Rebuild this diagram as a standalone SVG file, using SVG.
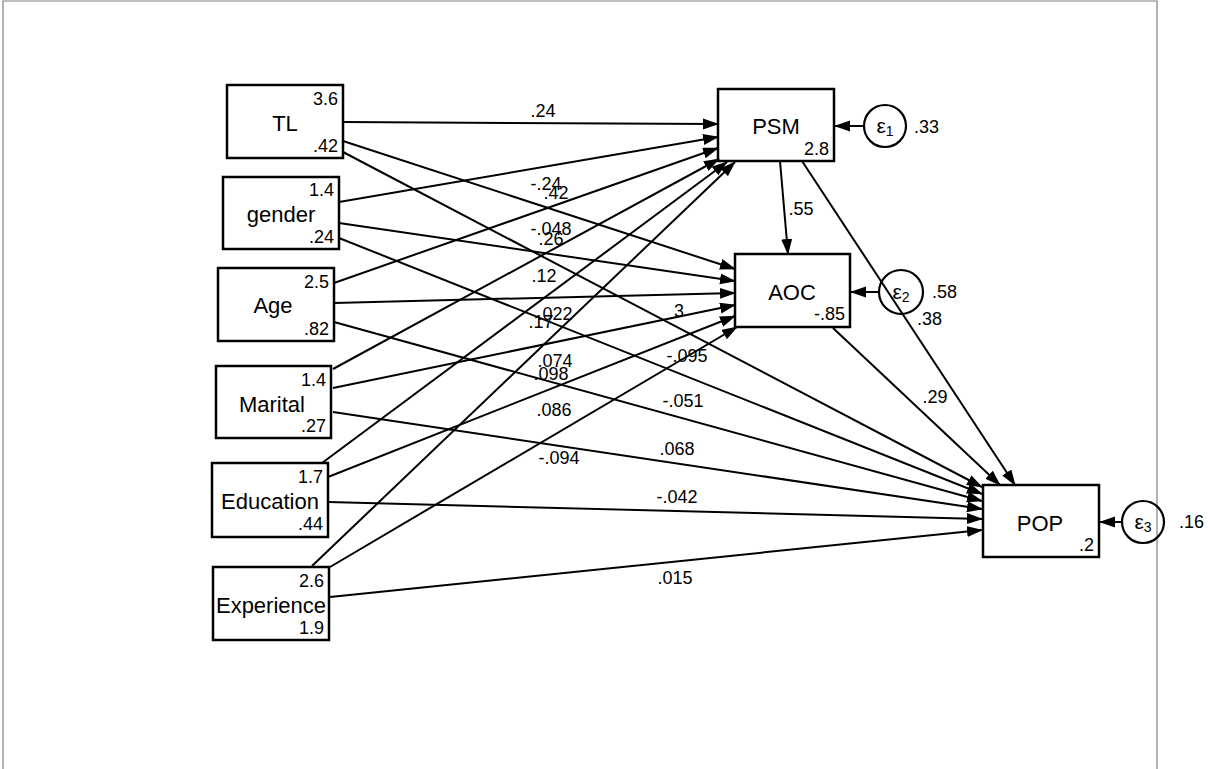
<svg xmlns="http://www.w3.org/2000/svg" width="1212" height="769" viewBox="0 0 1212 769">
<style>
.frame{fill:none;stroke:#808080;stroke-width:1.2}
.box{fill:#fff;stroke:#000;stroke-width:2.5}
.err{fill:none;stroke:#000;stroke-width:2.2}
.name{font-family:"Liberation Sans",Arial,sans-serif;font-size:22px;fill:#000;text-anchor:middle}
.num{font-family:"Liberation Sans",Arial,sans-serif;font-size:18px;fill:#000}
.eps{font-family:"Liberation Sans",Arial,sans-serif;font-size:21px;fill:#000;text-anchor:middle}
.r{text-anchor:end}
.m{text-anchor:middle}
.c line{stroke:#000;stroke-width:2;marker-end:url(#ah)}
</style>
<defs>
<marker id="ah" markerUnits="userSpaceOnUse" markerWidth="16" markerHeight="12" refX="15" refY="5.5" orient="auto">
<path d="M0,0 L16,5.5 L0,11 z" fill="#000"/>
</marker>
</defs>

<g id="TL">
<rect class="box" x="227" y="85" width="116" height="73"/>
<text class="name" x="285" y="131">TL</text>
<text class="num r" x="338" y="105">3.6</text>
<text class="num r" x="338" y="152">.42</text>
</g>
<g id="gender">
<rect class="box" x="223" y="177" width="116" height="72"/>
<text class="name" x="281" y="222">gender</text>
<text class="num r" x="334" y="196">1.4</text>
<text class="num r" x="334" y="243">.24</text>
</g>
<g id="Age">
<rect class="box" x="218" y="268" width="116" height="73"/>
<text class="name" x="273" y="313">Age</text>
<text class="num r" x="329" y="288">2.5</text>
<text class="num r" x="329" y="335">.82</text>
</g>
<g id="Marital">
<rect class="box" x="216" y="366" width="115" height="72"/>
<text class="name" x="272" y="412">Marital</text>
<text class="num r" x="326" y="386">1.4</text>
<text class="num r" x="326" y="432">.27</text>
</g>
<g id="Education">
<rect class="box" x="212" y="463" width="116" height="74"/>
<text class="name" x="270" y="509">Education</text>
<text class="num r" x="323" y="483">1.7</text>
<text class="num r" x="323" y="530">.44</text>
</g>
<g id="Experience">
<rect class="box" x="213" y="567" width="116" height="73"/>
<text class="name" x="271" y="613">Experience</text>
<text class="num r" x="324" y="587">2.6</text>
<text class="num r" x="324" y="634">1.9</text>
</g>

<g id="PSM">
<rect class="box" x="718" y="89" width="116" height="72"/>
<text class="name" x="776" y="134">PSM</text>
<text class="num r" x="829" y="155">2.8</text>
</g>
<g id="AOC">
<rect class="box" x="735" y="254" width="115" height="73"/>
<text class="name" x="792" y="300">AOC</text>
<text class="num r" x="845" y="320">-.85</text>
</g>
<g id="POP">
<rect class="box" x="983" y="485" width="116" height="72"/>
<text class="name" x="1040" y="531">POP</text>
<text class="num r" x="1094" y="551">.2</text>
</g>

<path class="frame" d="M3,769 V1 H1157 V769"/>

<g class="c" id="connectors">
<line x1="343" y1="122" x2="718" y2="124"/>
<line x1="339" y1="202" x2="718" y2="137"/>
<line x1="334" y1="283" x2="718" y2="148"/>
<line x1="333" y1="369" x2="719" y2="159"/>
<line x1="322" y1="463" x2="727" y2="162"/>
<line x1="312" y1="566" x2="735" y2="162"/>

<line x1="343" y1="141" x2="735" y2="269"/>
<line x1="339" y1="223" x2="735" y2="281"/>
<line x1="334" y1="303" x2="735" y2="293"/>
<line x1="333" y1="388" x2="735" y2="305"/>
<line x1="328" y1="477" x2="735" y2="316"/>
<line x1="330" y1="567" x2="737" y2="327"/>

<line x1="343" y1="152" x2="982" y2="487"/>
<line x1="339" y1="238" x2="982" y2="494"/>
<line x1="334" y1="322" x2="982" y2="501"/>
<line x1="333" y1="412" x2="982" y2="509"/>
<line x1="328" y1="502" x2="982" y2="519"/>
<line x1="330" y1="597" x2="982" y2="530"/>

<line x1="780" y1="161" x2="788" y2="254"/>
<line x1="802" y1="161" x2="1015" y2="485"/>
<line x1="833" y1="328" x2="1000" y2="485"/>

<line x1="864" y1="126" x2="835" y2="126"/>
<line x1="879" y1="292" x2="851" y2="292"/>
<line x1="1122" y1="522" x2="1100" y2="522"/>
</g>

<g id="edge-labels">
<text class="num m" x="543" y="117">.24</text>
<text class="num m" x="546" y="190">-.24</text>
<text class="num m" x="556" y="199">.42</text>
<text class="num m" x="551" y="235">-.048</text>
<text class="num m" x="551" y="245">.26</text>
<text class="num m" x="544" y="282">.12</text>
<text class="num m" x="555" y="320">.022</text>
<text class="num m" x="541" y="328">.17</text>
<text class="num m" x="679" y="317">3</text>
<text class="num m" x="687" y="362">-.095</text>
<text class="num m" x="555" y="367">.074</text>
<text class="num m" x="551" y="380">.098</text>
<text class="num m" x="683" y="407">-.051</text>
<text class="num m" x="554" y="416">.086</text>
<text class="num m" x="677" y="455">.068</text>
<text class="num m" x="559" y="464">-.094</text>
<text class="num m" x="677" y="503">-.042</text>
<text class="num m" x="675" y="584">.015</text>
<text class="num m" x="801" y="215">.55</text>
<text class="num" x="917" y="325">.38</text>
<text class="num m" x="935" y="403">.29</text>
</g>

<g id="e1">
<circle class="err" cx="885" cy="126" r="21"/>
<text class="eps" x="885" y="133">ε<tspan font-size="14" dy="3">1</tspan></text>
<text class="num" x="914" y="133">.33</text>
</g>
<g id="e2">
<circle class="err" cx="901" cy="292" r="22"/>
<text class="eps" x="901" y="299">ε<tspan font-size="14" dy="3">2</tspan></text>
<text class="num" x="932" y="298">.58</text>
</g>
<g id="e3">
<circle class="err" cx="1143" cy="522" r="21"/>
<text class="eps" x="1143" y="529">ε<tspan font-size="14" dy="3">3</tspan></text>
<text class="num" x="1179" y="528">.16</text>
</g>
</svg>
